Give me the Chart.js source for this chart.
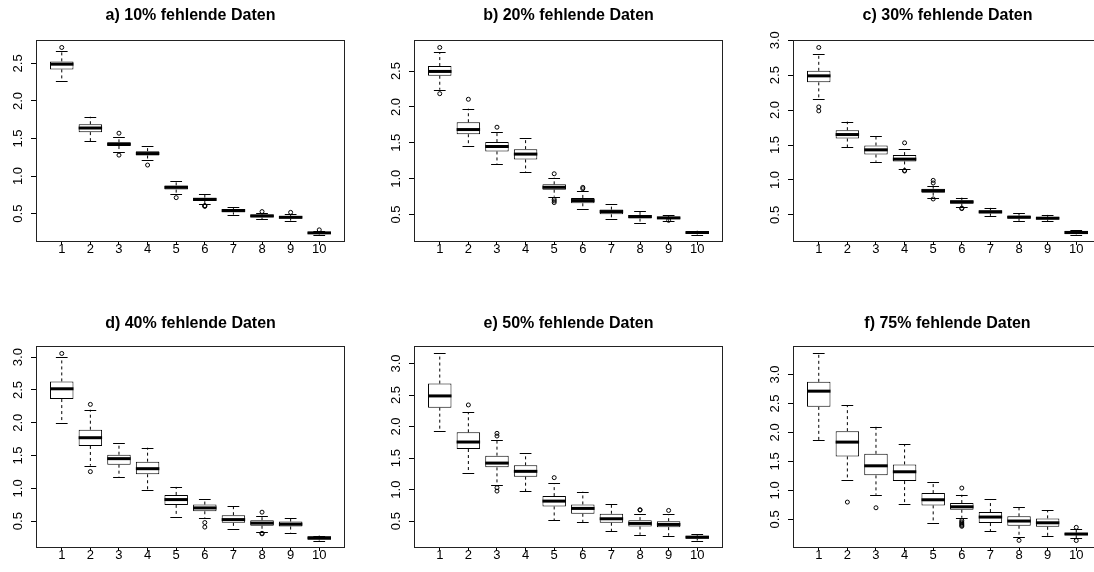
<!DOCTYPE html>
<html>
<head>
<meta charset="utf-8">
<script src="https://cdn.jsdelivr.net/npm/chart.js@4.4.1/dist/chart.umd.min.js"></script>
<style>
  html, body { margin: 0; padding: 0; background: #fff; }
  body { position: relative; width: 1094px; height: 572px; overflow: hidden; }
  canvas { position: absolute; }
</style>
</head>
<body>
<script>
// --- data ---
const categories = ['1', '2', '3', '4', '5', '6', '7', '8', '9', '10'];
const panelTitles = [
  'a) 10% fehlende Daten', 'b) 20% fehlende Daten', 'c) 30% fehlende Daten',
  'd) 40% fehlende Daten', 'e) 50% fehlende Daten', 'f) 75% fehlende Daten'
];

// a) 10%
const lowA  = [2.26, 1.465, 1.32, 1.21, 0.756, 0.624, 0.487, 0.425, 0.407, 0.222];
const q1A   = [2.42, 1.585, 1.40, 1.274, 0.82, 0.669, 0.517, 0.447, 0.434, 0.23];
const medA  = [2.49, 1.64, 1.425, 1.30, 0.85, 0.69, 0.54, 0.47, 0.451, 0.244];
const q3A   = [2.527, 1.69, 1.45, 1.332, 0.876, 0.713, 0.563, 0.487, 0.47, 0.257];
const highA = [2.66, 1.79, 1.526, 1.403, 0.929, 0.762, 0.584, 0.51, 0.491, 0.27];
const outA  = [[2.712], [], [1.571, 1.279], [1.147], [0.713], [0.597, 0.602, 0.607], [], [0.527], [0.517], [0.284]];

// b) 20%
const lowB  = [2.24, 1.454, 1.199, 1.093, 0.75, 0.583, 0.435, 0.389, 0.412, 0.222];
const q1B   = [2.435, 1.62, 1.38, 1.268, 0.847, 0.657, 0.504, 0.444, 0.435, 0.232];
const medB  = [2.495, 1.685, 1.449, 1.343, 0.88, 0.695, 0.542, 0.472, 0.454, 0.25];
const q3B   = [2.57, 1.787, 1.51, 1.412, 0.921, 0.732, 0.569, 0.495, 0.468, 0.264];
const highB = [2.76, 1.976, 1.648, 1.565, 1.014, 0.829, 0.648, 0.546, 0.49, 0.275];
const outB  = [[2.829, 2.185], [2.107], [1.718], [], [1.069, 0.712, 0.69, 0.667], [0.879, 0.861], [], [], [0.42], []];

// c) 30%
const lowC  = [2.154, 1.47, 1.26, 1.156, 0.747, 0.619, 0.486, 0.414, 0.414, 0.219];
const q1C   = [2.397, 1.593, 1.364, 1.265, 0.818, 0.661, 0.519, 0.447, 0.433, 0.224];
const medC  = [2.49, 1.65, 1.431, 1.298, 0.847, 0.686, 0.543, 0.466, 0.452, 0.248];
const q3C   = [2.562, 1.712, 1.493, 1.356, 0.875, 0.709, 0.566, 0.49, 0.472, 0.272];
const highC = [2.796, 1.835, 1.635, 1.436, 0.918, 0.747, 0.60, 0.523, 0.50, 0.278];
const outC  = [[2.896, 2.045, 1.988], [], [], [1.531, 1.128, 1.135], [0.994, 0.957, 0.728], [0.59, 0.596], [], [], [], []];

// d) 40%
const lowD  = [1.996, 1.346, 1.17, 0.981, 0.565, 0.55, 0.388, 0.333, 0.322, 0.205];
const q1D   = [2.361, 1.646, 1.361, 1.215, 0.748, 0.651, 0.474, 0.43, 0.418, 0.218];
const medD  = [2.518, 1.772, 1.453, 1.30, 0.829, 0.702, 0.524, 0.47, 0.454, 0.244];
const q3D   = [2.63, 1.894, 1.513, 1.407, 0.90, 0.753, 0.591, 0.515, 0.494, 0.27];
const highD = [2.995, 2.198, 1.687, 1.62, 1.022, 0.844, 0.728, 0.581, 0.545, 0.28];
const outD  = [[3.056], [2.28, 1.255], [], [], [], [0.479, 0.41], [], [0.637, 0.307, 0.315], [], []];

// e) 50%
const lowE  = [1.925, 1.268, 1.078, 0.977, 0.516, 0.48, 0.337, 0.284, 0.268, 0.193];
const q1E   = [2.30, 1.644, 1.353, 1.205, 0.733, 0.617, 0.475, 0.416, 0.405, 0.22];
const medE  = [2.486, 1.755, 1.421, 1.29, 0.818, 0.702, 0.538, 0.464, 0.448, 0.246];
const q3E   = [2.682, 1.909, 1.539, 1.385, 0.897, 0.765, 0.617, 0.516, 0.50, 0.268];
const highE = [3.159, 2.227, 1.793, 1.58, 1.104, 0.967, 0.77, 0.606, 0.606, 0.294];
const outE  = [[], [2.343], [1.893, 1.85, 1.03, 0.977], [], [1.19], [], [], [0.681, 0.676], [0.67], []];

// f) 75%
const lowF  = [1.862, 1.183, 0.924, 0.77, 0.442, 0.528, 0.298, 0.20, 0.212, 0.178];
const q1F   = [2.441, 1.586, 1.259, 1.16, 0.741, 0.666, 0.436, 0.39, 0.372, 0.225];
const medF  = [2.712, 1.833, 1.424, 1.321, 0.838, 0.717, 0.54, 0.471, 0.441, 0.247];
const q3F   = [2.873, 2.022, 1.631, 1.448, 0.953, 0.781, 0.626, 0.552, 0.517, 0.27];
const highF = [3.362, 2.471, 2.097, 1.793, 1.143, 0.924, 0.85, 0.712, 0.66, 0.328];
const outF  = [[], [0.798], [0.70], [], [], [1.04, 0.48, 0.455, 0.435, 0.415, 0.395, 0.38], [], [0.138], [], [0.362, 0.135]];

const panels = [
  { title: panelTitles[0], low: lowA, q1: q1A, med: medA, q3: q3A, high: highA, out: outA },
  { title: panelTitles[1], low: lowB, q1: q1B, med: medB, q3: q3B, high: highB, out: outB },
  { title: panelTitles[2], low: lowC, q1: q1C, med: medC, q3: q3C, high: highC, out: outC },
  { title: panelTitles[3], low: lowD, q1: q1D, med: medD, q3: q3D, high: highD, out: outD },
  { title: panelTitles[4], low: lowE, q1: q1E, med: medE, q3: q3E, high: highE, out: outE },
  { title: panelTitles[5], low: lowF, q1: q1F, med: medF, q3: q3F, high: highF, out: outF }
];

// --- page layout (plot boxes of the 3x2 grid) ---
const plotLefts = [36, 414, 793];
const plotTops = [40, 346];
const titleCenters = [16, 17.3];
const plotW = 309, plotH = 202;
const padL = 36, padT = 40, padB = 30, padR = 6;
const FONT = "'Liberation Sans', Arial, Helvetica, sans-serif";

Chart.defaults.font.family = FONT;
Chart.defaults.color = '#000';

// whiskers, staples, medians, frame and rotated y labels (R boxplot look)
const boxParts = {
  id: 'boxParts',
  afterDatasetsDraw(chart) {
    const p = chart.config.options.plugins.boxParts.panel;
    const ctx = chart.ctx;
    const xs = chart.scales.x, ys = chart.scales.y;
    const bars = chart.getDatasetMeta(0).data;
    ctx.save();
    ctx.strokeStyle = '#000';
    p.med.forEach((m, i) => {
      const cx = xs.getPixelForValue(i + 1);
      const half = bars[i].width / 2;
      ctx.lineWidth = 1;
      ctx.setLineDash([3, 3]);
      ctx.beginPath();
      ctx.moveTo(cx, ys.getPixelForValue(p.q3[i]));
      ctx.lineTo(cx, ys.getPixelForValue(p.high[i]));
      ctx.moveTo(cx, ys.getPixelForValue(p.q1[i]));
      ctx.lineTo(cx, ys.getPixelForValue(p.low[i]));
      ctx.stroke();
      ctx.setLineDash([]);
      ctx.beginPath();
      [p.high[i], p.low[i]].forEach(v => {
        const py = Math.round(ys.getPixelForValue(v)) + 0.5;
        ctx.moveTo(cx - half / 2, py);
        ctx.lineTo(cx + half / 2, py);
      });
      ctx.stroke();
      ctx.lineWidth = 3;
      ctx.beginPath();
      const my = ys.getPixelForValue(m);
      ctx.moveTo(cx - half, my);
      ctx.lineTo(cx + half, my);
      ctx.stroke();
    });
    const a = chart.chartArea;
    ctx.lineWidth = 1;
    ctx.strokeStyle = '#222';
    ctx.strokeRect(Math.round(a.left) + 0.5, Math.round(a.top) + 0.5, Math.round(a.width) - 1, Math.round(a.height) - 1);

    ctx.fillStyle = '#000';
    ctx.font = '13px ' + FONT;
    ctx.textAlign = 'center';
    ctx.textBaseline = 'middle';
    ys.ticks.forEach(t => {
      ctx.save();
      ctx.translate(a.left - 18, ys.getPixelForValue(t.value));
      ctx.rotate(-Math.PI / 2);
      ctx.fillText(t.label, 0, 0);
      ctx.restore();
    });
    ctx.restore();
  }
};

function makeChart(canvas, p, row) {
  const all = p.low.concat(p.high, p.out.flat());
  const lo = Math.min(...all), hi = Math.max(...all);
  const ext = (hi - lo) * 0.04;
  const tTop = titleCenters[row] - 9.6;

  const boxData = p.q1.map((v, i) => ({ x: i + 1, y: [v, p.q3[i]] }));
  const outData = [];
  p.out.forEach((arr, i) => arr.forEach(v => outData.push({ x: i + 1, y: v })));

  return new Chart(canvas, {
    type: 'bar',
    data: {
      datasets: [
        {
          data: boxData,
          backgroundColor: '#fff',
          borderColor: '#000',
          borderWidth: 1,
          borderSkipped: false,
          barPercentage: 0.82,
          categoryPercentage: 1
        },
        {
          type: 'scatter',
          data: outData,
          pointStyle: 'circle',
          pointRadius: 2,
          borderColor: '#000',
          borderWidth: 1,
          backgroundColor: 'rgba(0,0,0,0)'
        }
      ]
    },
    options: {
      responsive: false,
      animation: false,
      devicePixelRatio: 1,
      events: [],
      layout: { autoPadding: false, padding: { left: 0, right: padR, top: 0, bottom: 0 } },
      plugins: {
        legend: { display: false },
        tooltip: { enabled: false },
        title: {
          display: true,
          text: p.title,
          fullSize: false,
          color: '#000',
          font: { family: FONT, size: 16, weight: 'bold' },
          padding: { top: tTop, bottom: padT - tTop - 19.2 }
        },
        boxParts: { panel: p }
      },
      scales: {
        x: {
          type: 'linear',
          min: 0.1,
          max: 10.9,
          offset: false,
          afterFit: s => { s.height = padB; },
          border: { display: false },
          grid: { offset: false, drawOnChartArea: false, drawTicks: true, tickLength: 3, color: '#000' },
          ticks: {
            stepSize: 1,
            includeBounds: false,
            autoSkip: false,
            maxRotation: 0,
            minRotation: 0,
            padding: -3,
            color: '#000',
            font: { size: 13 },
            callback: v => categories[v - 1]
          }
        },
        y: {
          type: 'linear',
          min: lo - ext,
          max: hi + ext,
          beginAtZero: false,
          afterFit: s => { s.width = padL; },
          border: { display: false },
          grid: { drawOnChartArea: false, drawTicks: true, tickLength: 5, color: '#000' },
          ticks: {
            stepSize: 0.5,
            includeBounds: false,
            display: false,
            callback: v => v.toFixed(1)
          }
        }
      }
    },
    plugins: [boxParts]
  });
}

panels.forEach((p, k) => {
  const col = k % 3, row = Math.floor(k / 3);
  const canvas = document.createElement('canvas');
  canvas.width = padL + plotW + padR;
  canvas.height = padT + plotH + padB;
  canvas.style.left = (plotLefts[col] - padL) + 'px';
  canvas.style.top = (plotTops[row] - padT) + 'px';
  document.body.appendChild(canvas);
  makeChart(canvas, p, row);
});
</script>
</body>
</html>
